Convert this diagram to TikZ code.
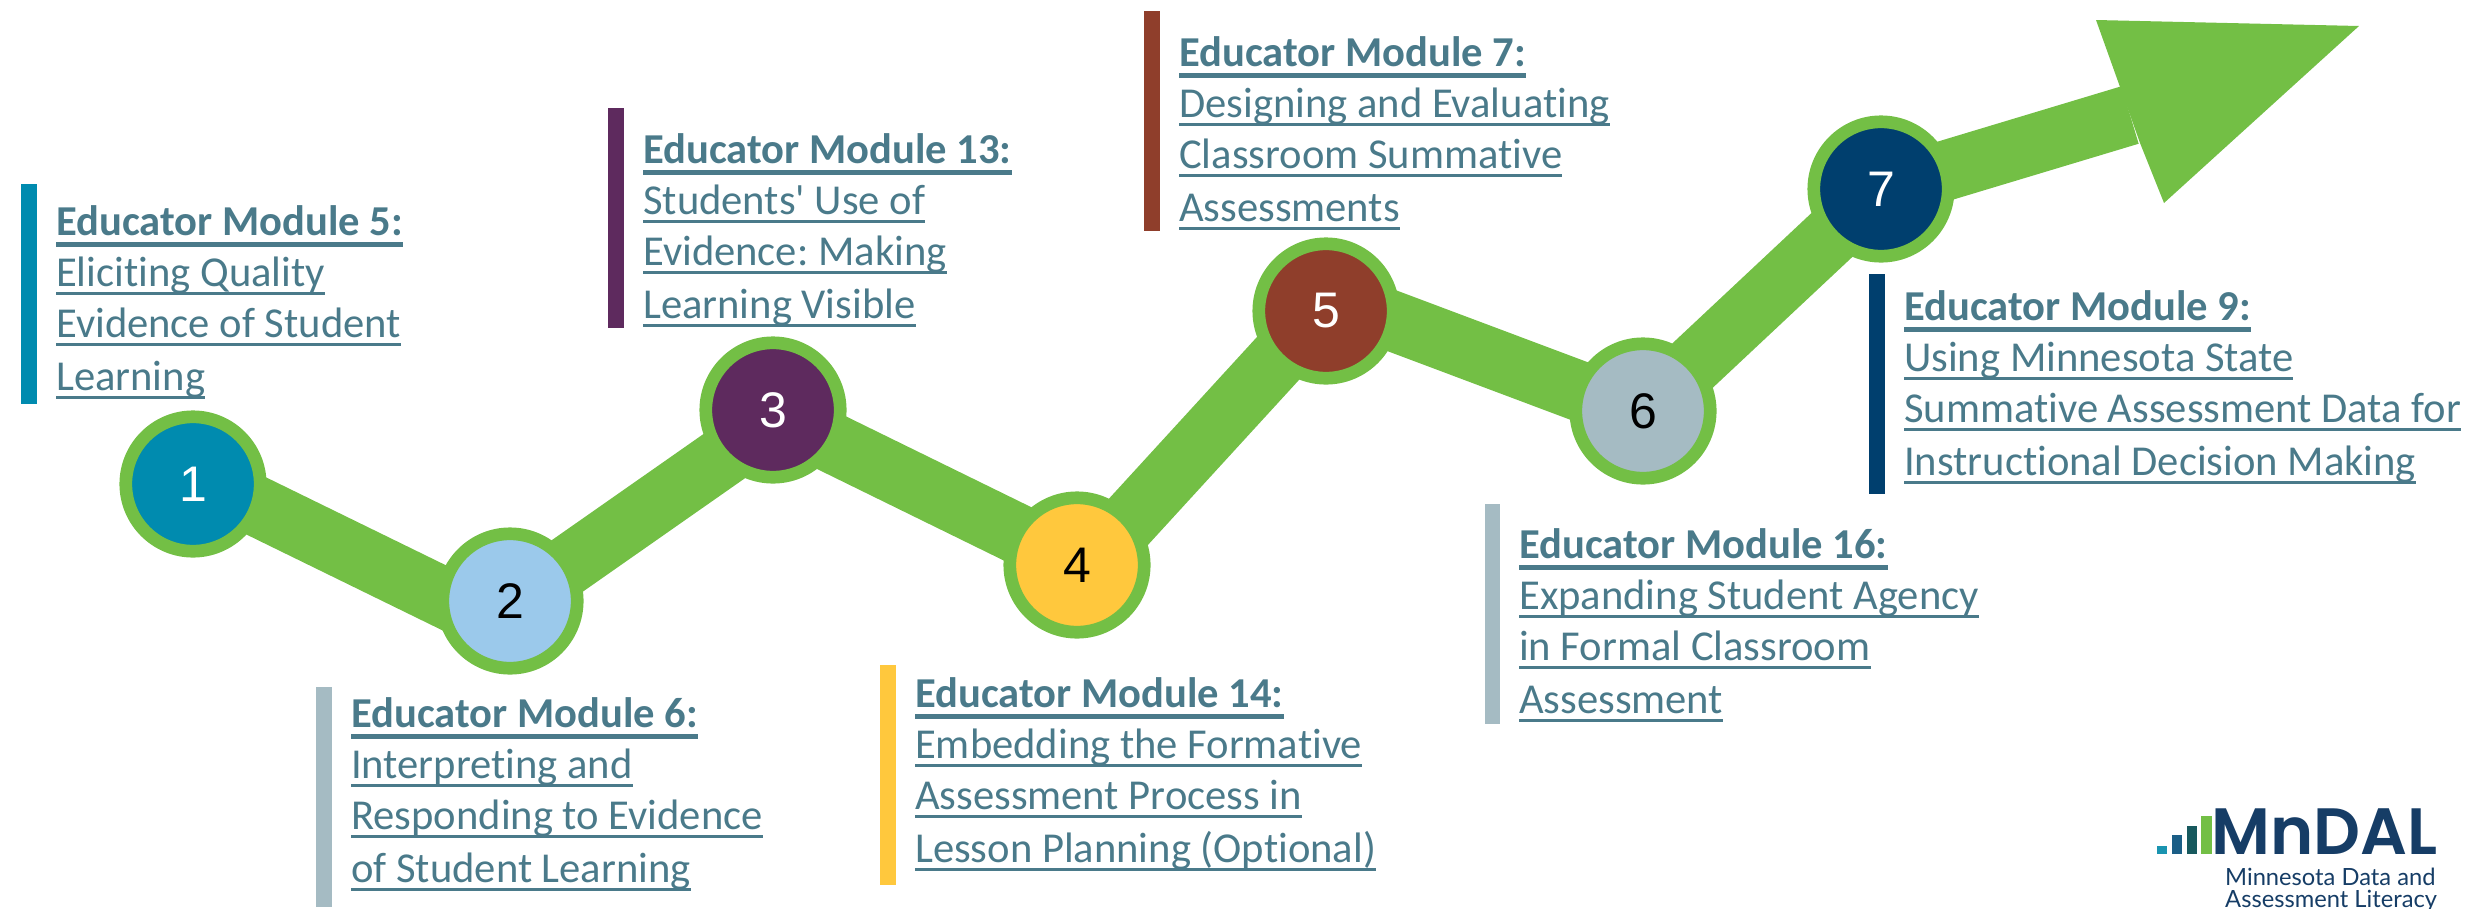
\documentclass[tikz,border=0pt]{standalone}
\usepackage{fontspec}
\newfontfamily\modfont{Carlito}[Ligatures=NoCommon]
\newfontfamily\numfont{Liberation Sans}
\newfontfamily\logofont{Poppins}[UprightFont=*-SemiBold]
\newfontfamily\logosmall{Lato}
\usetikzlibrary{backgrounds}
\definecolor{pathgreen}{HTML}{73BF45}
\definecolor{txt}{HTML}{4A7A8A}
\definecolor{cteal}{HTML}{008BAF}
\definecolor{csky}{HTML}{9BC9EB}
\definecolor{cpurple}{HTML}{5E2A5E}
\definecolor{cyellow}{HTML}{FFC83D}
\definecolor{cbrown}{HTML}{8F3E2B}
\definecolor{cgrey}{HTML}{A5BBC3}
\definecolor{cnavy}{HTML}{003F6E}
\definecolor{logonavy}{HTML}{163D66}
\definecolor{lbarA}{HTML}{1A94B0}
\definecolor{lbarB}{HTML}{1B5E86}
\definecolor{lbarC}{HTML}{17595E}
\newcommand{\ulreg}[1]{\setbox0=\hbox{#1}\rlap{\rule[-8.5pt]{\wd0}{3pt}}\box0}
\newcommand{\ulbold}[1]{\rule{0pt}{32pt}\setbox0=\hbox{\bfseries #1}\rlap{\rule[-11.5pt]{\wd0}{5pt}}\box0}
\newcommand{\modlines}[4]{\ulbold{#1}\\\ulreg{#2}\\\ulreg{#3}\\[2pt]\ulreg{#4}}
\tikzset{
 x=1pt,y=-1pt,
 stepdot/.style={circle,draw=pathgreen,line width=12.7pt,minimum size=134.4pt,inner sep=0pt,font=\numfont\fontsize{50}{50}\selectfont},
 shaft/.style={draw=pathgreen,line width=60pt},
 modtext/.style={anchor=north west,inner sep=0pt,align=left,text=txt,font=\modfont\frenchspacing\fontsize{42.6}{51}\selectfont},
 logoname/.style={anchor=base west,inner sep=0pt,text=logonavy},
}
\begin{document}
\begin{tikzpicture}
\useasboundingbox (0,0) rectangle (2466,908);
\clip (0,0) rectangle (2466,908);
% circles
\node[stepdot,fill=cteal,text=white] (n1) at (193,484) {1};
\node[stepdot,fill=csky,text=black] (n2) at (510,601) {2};
\node[stepdot,fill=cpurple,text=white] (n3) at (773,410) {3};
\node[stepdot,fill=cyellow,text=black] (n4) at (1077,565) {4};
\node[stepdot,fill=cbrown,text=white] (n5) at (1326,311) {5};
\node[stepdot,fill=cgrey,text=black] (n6) at (1643,411) {6};
\node[stepdot,fill=cnavy,text=white] (n7) at (1881,189) {7};
\coordinate (headA) at (2096,20);
\coordinate (headT) at (2359,26);
\coordinate (headB) at (2164,203);
\coordinate (notchU) at (2120,87);
\coordinate (notchL) at (2140,143);
\coordinate (notchM) at (2130,115);
\begin{scope}[on background layer]
\draw[shaft] ([shift={(0,-9)}]n1.center) -- ([shift={(0,29)}]n2.center);
\draw[shaft] ([shift={(0,5)}]n2.center) -- ([shift={(0,12)}]n3.center);
\draw[shaft] ([shift={(0,4)}]n3.center) -- ([shift={(0,-2)}]n4.center);
\draw[shaft] ([shift={(0,13)}]n4.center) -- ([shift={(0,-5)}]n5.center);
\draw[shaft] ([shift={(0,-15)}]n5.center) -- ([shift={(0,4)}]n6.center);
\draw[shaft] ([shift={(0,1)}]n6.center) -- (n7.center);
\draw[shaft] ([shift={(0,1)}]n7.center) -- (notchM);
\fill[pathgreen] (notchU) -- (headA) -- (headT) -- (headB) -- (notchL) -- cycle;
\end{scope}
% bars
\fill[cteal] (21,184) rectangle (37,404);
\fill[cgrey] (316,687) rectangle (332,907);
\fill[cpurple] (608,108) rectangle (624,328);
\fill[cyellow] (880,665) rectangle (896,885);
\fill[cbrown] (1144,11) rectangle (1160,231);
\fill[cgrey] (1485,504) rectangle (1500,724);
\fill[cnavy] (1869,274) rectangle (1885,494);
% texts
\node[modtext] (t1) at (56,203) {\modlines{Educator Module 5:}{Eliciting Quality}{Evidence of Student}{Learning}};
\node[modtext] (t2) at (351,695) {\modlines{Educator Module 6:}{Interpreting and}{Responding to Evidence}{of Student Learning}};
\node[modtext] (t3) at (643,131) {\modlines{Educator Module 13:}{Students' Use of}{Evidence: Making}{Learning Visible}};
\node[modtext] (t4) at (915,675) {\modlines{Educator Module 14:}{Embedding the Formative}{Assessment Process in}{Lesson Planning (Optional)}};
\node[modtext] (t5) at (1179,34) {\modlines{Educator Module 7:}{Designing and Evaluating}{Classroom Summative}{Assessments}};
\node[modtext] (t6) at (1519,526) {\modlines{Educator Module 16:}{Expanding Student Agency}{in Formal Classroom}{Assessment}};
\node[modtext] (t7) at (1904,288) {\modlines{Educator Module 9:}{Using Minnesota State}{Summative Assessment Data for}{Instructional Decision Making}};
% logo
\fill[lbarA] (2157,846) rectangle (2167,854);
\fill[lbarB] (2172,835) rectangle (2182,854);
\fill[lbarC] (2187,826) rectangle (2197,854);
\fill[pathgreen] (2201,816) rectangle (2212,854);
\node[logoname,font=\logofont\fontsize{65.5}{65.5}\selectfont] (logo) at (2211,854) {MnDAL};
\node[logoname,font=\logosmall\fontsize{23.7}{24}\selectfont] (logoa) at (2225,885) {Minnesota Data and};
\node[logoname,font=\logosmall\fontsize{23.7}{24}\selectfont] (logob) at (2225,907) {Assessment Literacy};
\end{tikzpicture}
\end{document}
